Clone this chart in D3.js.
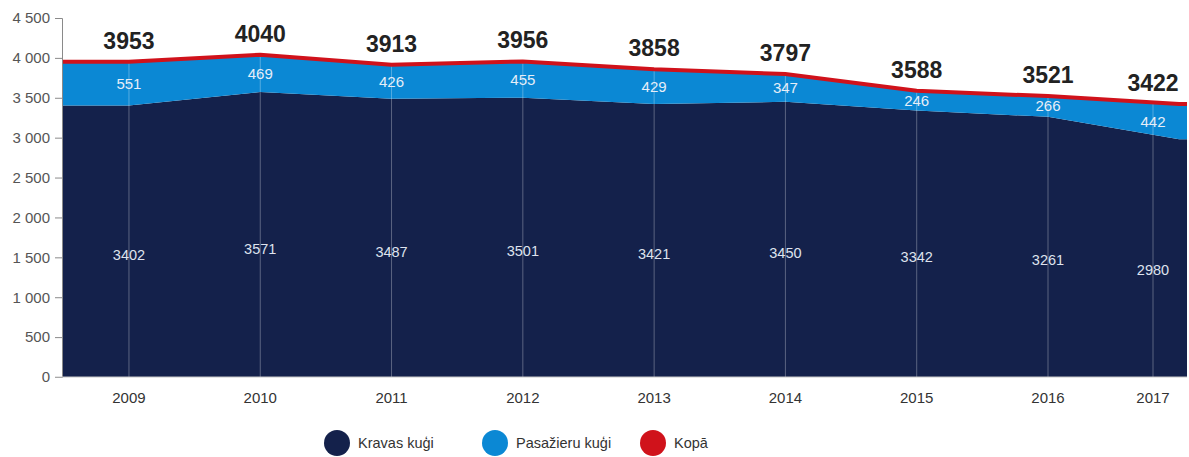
<!DOCTYPE html>
<html>
<head>
<meta charset="utf-8">
<script src="https://cdn.jsdelivr.net/npm/d3@7"></script>
<style>
  body { margin: 0; background: #fff; }
  text { font-family: "Liberation Sans", Arial, sans-serif; }
</style>
</head>
<body>
<div id="chart"></div>
<script>
// Data
const years = [2009, 2010, 2011, 2012, 2013, 2014, 2015, 2016, 2017];
const cargo = [3402, 3571, 3487, 3501, 3421, 3450, 3342, 3261, 2980];
const passenger = [551, 469, 426, 455, 429, 347, 246, 266, 442];
const total = [3953, 4040, 3913, 3956, 3858, 3797, 3588, 3521, 3422];
const yTicks = [0, 500, 1000, 1500, 2000, 2500, 3000, 3500, 4000, 4500];
const legendLabels = ["Kravas kuģi", "Pasažieru kuģi", "Kopā"];

const colors = { cargo: "#14214b", passenger: "#0b88d4", total: "#d0121b" };

const W = 1189, H = 457;
const svg = d3.select("#chart").append("svg")
  .attr("width", W)
  .attr("height", H);

// data points are evenly spaced, the plot is cut just after the last one
const x = d3.scaleLinear()
  .domain([2008.49, 2017.06])
  .range([62, 1187]);

// labels + guide lines: the last one is pulled inwards
const xLab = d3.scaleLinear()
  .domain([2008.49, 2016, 2017])
  .range([62, 1048, 1153]);

const y = d3.scaleLinear()
  .domain([0, 4500])
  .range([377, 18]);

const rows = years.map((yr, i) => ({ year: yr, cargo: cargo[i], passenger: passenger[i], total: total[i] }));
// stretch first/last values to the plot edges
const edgeRows = [
  { ...rows[0], year: x.domain()[0] },
  ...rows,
  { ...rows[rows.length - 1], year: x.domain()[1] }
];

// Areas
const cargoArea = d3.area()
  .x(d => x(d.year))
  .y0(y(0))
  .y1(d => y(d.cargo));

const passArea = d3.area()
  .x(d => x(d.year))
  .y0(d => y(d.cargo))
  .y1(d => y(d.cargo + d.passenger));

svg.append("path")
  .datum(edgeRows)
  .attr("fill", colors.cargo)
  .attr("d", cargoArea);

svg.append("path")
  .datum(edgeRows)
  .attr("fill", colors.passenger)
  .attr("d", passArea);

// vertical guide lines
svg.selectAll(".grid")
  .data(rows)
  .enter()
  .append("line")
  .attr("class", "grid")
  .attr("x1", d => xLab(d.year))
  .attr("x2", d => xLab(d.year))
  .attr("y1", y(0))
  .attr("y2", d => y(d.total))
  .attr("stroke", "rgba(255,255,255,0.3)")
  .attr("stroke-width", 1);

// total line
svg.append("path")
  .datum(edgeRows)
  .attr("fill", "none")
  .attr("stroke", colors.total)
  .attr("stroke-width", 4)
  .attr("d", d3.line().x(d => x(d.year)).y(d => y(d.total)));

// Axes
const fmt = d => d3.format(",")(d).replace(/,/g, " ");

const yAxis = svg.append("g")
  .attr("transform", `translate(${x.range()[0]},0)`)
  .call(d3.axisLeft(y).tickValues(yTicks).tickSize(7).tickPadding(5).tickFormat(fmt));
yAxis.select(".domain").attr("stroke", "#8a8a8a");
yAxis.selectAll(".tick line").attr("stroke", "#8a8a8a");
yAxis.selectAll("text")
  .attr("fill", "#555")
  .style("font-size", "15px")
  .style("font-family", "'Liberation Sans', Arial, sans-serif");

svg.append("line")
  .attr("x1", x.range()[0] - 7)
  .attr("x2", x.range()[1])
  .attr("y1", y(0))
  .attr("y2", y(0))
  .attr("stroke", "#c8c8c8");

svg.selectAll(".xlabel")
  .data(years)
  .enter()
  .append("text")
  .attr("class", "xlabel")
  .attr("x", d => xLab(d))
  .attr("y", 403)
  .attr("text-anchor", "middle")
  .attr("fill", "#333")
  .style("font-size", "15px")
  .text(d => d);

// Value labels
svg.selectAll(".totLabel")
  .data(rows)
  .enter()
  .append("text")
  .attr("x", d => xLab(d.year))
  .attr("y", d => y(d.total) - 13)
  .attr("text-anchor", "middle")
  .attr("fill", "#222")
  .style("font-size", "23px")
  .style("font-weight", "bold")
  .text(d => d.total);

svg.selectAll(".passLabel")
  .data(rows)
  .enter()
  .append("text")
  .attr("x", d => xLab(d.year))
  .attr("y", d => y(d.cargo + d.passenger / 2))
  .attr("dy", "0.35em")
  .attr("text-anchor", "middle")
  .attr("fill", "#e6eef8")
  .style("font-size", "15px")
  .text(d => d.passenger);

svg.selectAll(".cargoLabel")
  .data(rows)
  .enter()
  .append("text")
  .attr("x", d => xLab(d.year))
  .attr("y", d => y(d.cargo * 0.45))
  .attr("dy", "0.35em")
  .attr("text-anchor", "middle")
  .attr("fill", "#dfe3ee")
  .style("font-size", "14.5px")
  .text(d => d.cargo);

// Legend
const legendColors = [colors.cargo, colors.passenger, colors.total];
const legend = svg.selectAll(".legend")
  .data(legendLabels)
  .enter()
  .append("g")
  .attr("transform", (d, i) => `translate(${337 + i * 158},443)`);

legend.append("circle")
  .attr("r", 13)
  .attr("fill", (d, i) => legendColors[i]);

legend.append("text")
  .attr("x", 21)
  .attr("dy", "0.35em")
  .attr("fill", "#333")
  .style("font-size", "14.5px")
  .text(d => d);
</script>
</body>
</html>
